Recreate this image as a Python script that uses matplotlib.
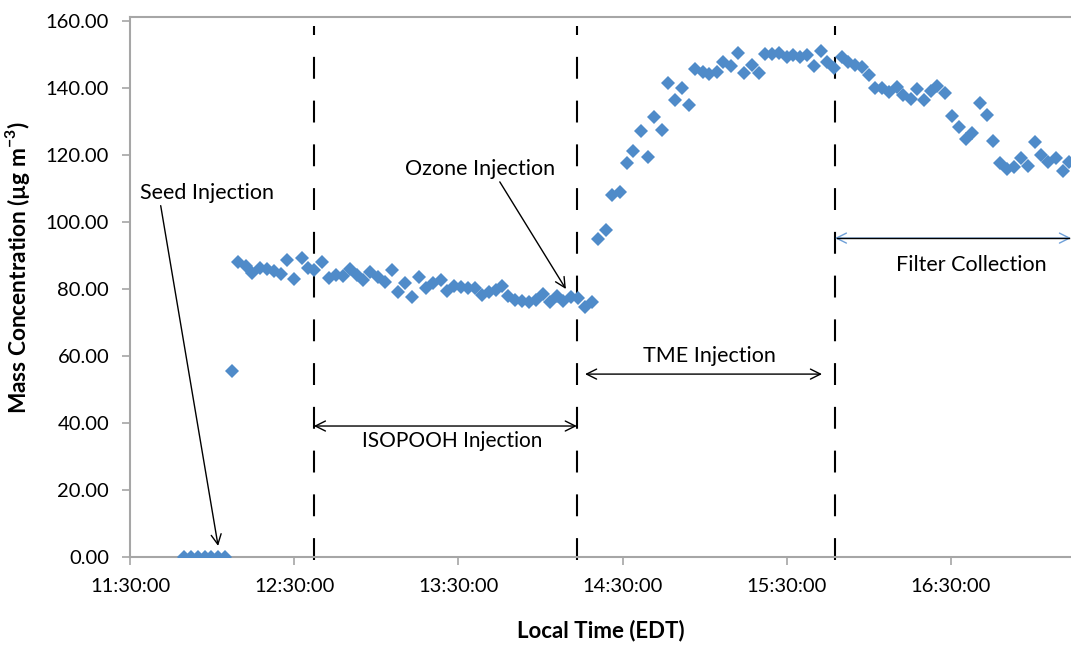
import matplotlib
matplotlib.use('Agg')
import matplotlib.pyplot as plt
from matplotlib.ticker import FuncFormatter

plt.rcParams['font.family'] = ['Lato', 'DejaVu Sans']
plt.rcParams['mathtext.fontset'] = 'custom'
plt.rcParams['mathtext.rm'] = 'Lato'
plt.rcParams['mathtext.bf'] = 'Lato:bold'

# minutes after 11:30:00 (EDT)
minutes = [19.7, 22.3, 24.8, 27.4, 29.6, 32.2, 34.7, 37.3, 39.6, 42.3,
           44.7, 47.5, 50.0, 52.7, 55.2, 57.3, 60.0, 62.7, 64.9, 67.3,
           70.3, 72.7, 75.2, 77.9, 80.4, 82.8, 85.3, 87.7, 90.7, 93.2,
           95.6, 98.0, 100.5, 103.2, 105.6, 108.1, 110.8, 113.6, 115.7, 118.5,
           121.0, 123.4, 126.1, 128.5, 131.2, 133.6, 136.0, 138.2, 140.7, 143.1,
           145.8, 148.2, 151.0, 153.5, 155.9, 158.3, 161.1, 163.6, 166.3, 168.9,
           171.1, 173.9, 176.0, 179.1, 181.5, 183.9, 186.6, 189.2, 191.5, 194.3,
           196.7, 199.2, 201.6, 204.4, 206.5, 209.3, 211.7, 214.4, 216.8, 219.5,
           222.3, 224.4, 227.2, 230.0, 232.0, 234.8, 237.3, 240.0, 242.4, 244.8,
           247.5, 249.9, 252.4, 254.8, 257.3, 260.1, 262.5, 264.9, 267.4, 270.2,
           272.2, 275.0, 277.5, 280.2, 282.6, 285.3, 287.7, 290.1, 292.6, 295.0,
           297.8, 300.3, 303.0, 305.5, 307.9, 310.6, 313.1, 315.5, 317.9, 320.6,
           323.0, 325.5, 328.2, 330.7, 333.1, 335.6, 338.4, 340.8, 343.2]

mass = [0.0, 0.0, 0.0, 0.0, 0.0, 0.0, 0.0, 55.6, 88.1, 87.0,
        84.7, 86.4, 86.0, 85.4, 84.4, 88.7, 83.0, 89.3, 86.4, 85.7,
        88.1, 83.2, 84.2, 84.0, 86.0, 84.2, 82.7, 85.2, 83.7, 82.2,
        85.7, 79.2, 81.7, 77.5, 83.7, 80.2, 81.7, 82.7, 79.4, 81.0,
        80.7, 80.4, 80.4, 78.2, 79.2, 79.7, 81.0, 78.0, 76.7, 76.4,
        76.0, 76.7, 78.4, 76.0, 78.0, 76.4, 77.5, 77.2, 74.7, 76.2,
        94.8, 97.6, 108.0, 109.0, 117.5, 121.3, 127.2, 119.3, 131.4, 127.5,
        141.4, 136.4, 139.9, 134.9, 145.6, 144.9, 144.2, 144.9, 147.9, 146.6,
        150.5, 144.6, 146.9, 144.6, 150.1, 150.1, 150.5, 149.3, 149.9, 149.2,
        149.9, 146.6, 151.1, 147.9, 145.9, 149.3, 147.9, 146.9, 146.4, 143.9,
        139.9, 139.9, 138.9, 140.4, 137.9, 136.6, 139.6, 136.4, 139.2, 140.6,
        138.6, 131.6, 128.3, 124.7, 126.7, 135.6, 131.9, 124.3, 117.5, 115.7,
        116.5, 119.0, 116.7, 124.0, 120.0, 118.0, 119.0, 115.3, 118.0]

tick_minutes = [0, 60, 120, 180, 240, 300]
y_ticks = [0, 20, 40, 60, 80, 100, 120, 140, 160]

# event times (minutes after 11:30)
isopooh_start = 67.2
ozone_time = 163.5
filter_start = 257.6
x_end = 343.9

grey = '#a6a6a6'

fig = plt.figure(figsize=(10.71, 6.45), dpi=100)
ax = fig.add_axes([130 / 1071, 1 - 557 / 645, 941 / 1071, 540 / 645])

ax.plot(minutes, mass, linestyle='none', marker='D', markersize=7.6,
        color='#4f8bc9', markeredgewidth=0, zorder=3)

ax.set_xlim(0, x_end)
ax.set_ylim(0, 161.2)
ax.set_xticks(tick_minutes)
ax.set_yticks(y_ticks)

def fmt_time(m, pos):
    total = 11 * 60 + 30 + int(round(m))
    return '%d:%02d:00' % (total // 60, total % 60)

ax.xaxis.set_major_formatter(FuncFormatter(fmt_time))
ax.yaxis.set_major_formatter(FuncFormatter(lambda v, p: '%.2f' % v))

for s in ['left', 'bottom', 'top']:
    ax.spines[s].set_color(grey)
    ax.spines[s].set_linewidth(1.5)
ax.spines['right'].set_visible(False)
ax.tick_params(axis='both', direction='out', color=grey, width=1.2, length=6,
               labelsize=14.5, labelcolor='black')
ax.tick_params(axis='y', pad=9)
ax.tick_params(axis='x', pad=9)

ax.set_xlabel('Local Time (EDT)', fontsize=16, fontweight='bold', labelpad=18)
ax.set_ylabel(r'Mass Concentration (µg m$^{\mathbf{-3}}$)', fontsize=16.3,
              fontweight='bold')
ax.yaxis.set_label_coords(-0.104, 0.535)

# dashed event lines
for xv in [isopooh_start, ozone_time, filter_start]:
    ax.plot([xv, xv], [-1.0, 158.5], color='black', lw=1.5,
            linestyle=(0, (10.5, 10.5)), clip_on=False, zorder=2)

ann_fs = 15.5
ax.annotate('Seed Injection', xy=(32.2, 3.3), xytext=(3.7, 108.7),
            fontsize=ann_fs, ha='left', va='center',
            arrowprops=dict(arrowstyle='->', color='black', lw=1.0,
                            mutation_scale=18, shrinkA=0, shrinkB=0,
                            relpos=(0.15, 0.0)))
ax.annotate('Ozone Injection', xy=(159.3, 80.0), xytext=(100.5, 115.8),
            fontsize=ann_fs, ha='left', va='center',
            arrowprops=dict(arrowstyle='->', color='black', lw=1.0,
                            mutation_scale=18, shrinkA=0, shrinkB=0,
                            relpos=(0.62, 0.0)))

dbl = dict(arrowstyle='<->', color='black', lw=1.0, mutation_scale=18,
           shrinkA=0, shrinkB=0)
ax.annotate('', xy=(isopooh_start, 39.1), xytext=(163.3, 39.1), arrowprops=dbl)
ax.text(117.7, 34.6, 'ISOPOOH Injection', fontsize=15, ha='center', va='center')

ax.annotate('', xy=(166.3, 54.6), xytext=(252.9, 54.6), arrowprops=dbl)
ax.text(211.6, 60.0, 'TME Injection', fontsize=ann_fs, ha='center', va='center')

blue_dbl = dict(arrowstyle='<->', color='#6fa0d8', lw=1.0, mutation_scale=18,
                shrinkA=0, shrinkB=0)
ax.annotate('', xy=(filter_start, 95.2), xytext=(x_end, 95.2),
            arrowprops=blue_dbl, annotation_clip=False)
ax.plot([filter_start + 0.6, x_end - 0.6], [95.2, 95.2], color='black', lw=1.0,
        clip_on=False, zorder=4)
ax.text(307.5, 87.2, 'Filter Collection', fontsize=ann_fs, ha='center', va='center')

fig.savefig('out.png', dpi=100)
